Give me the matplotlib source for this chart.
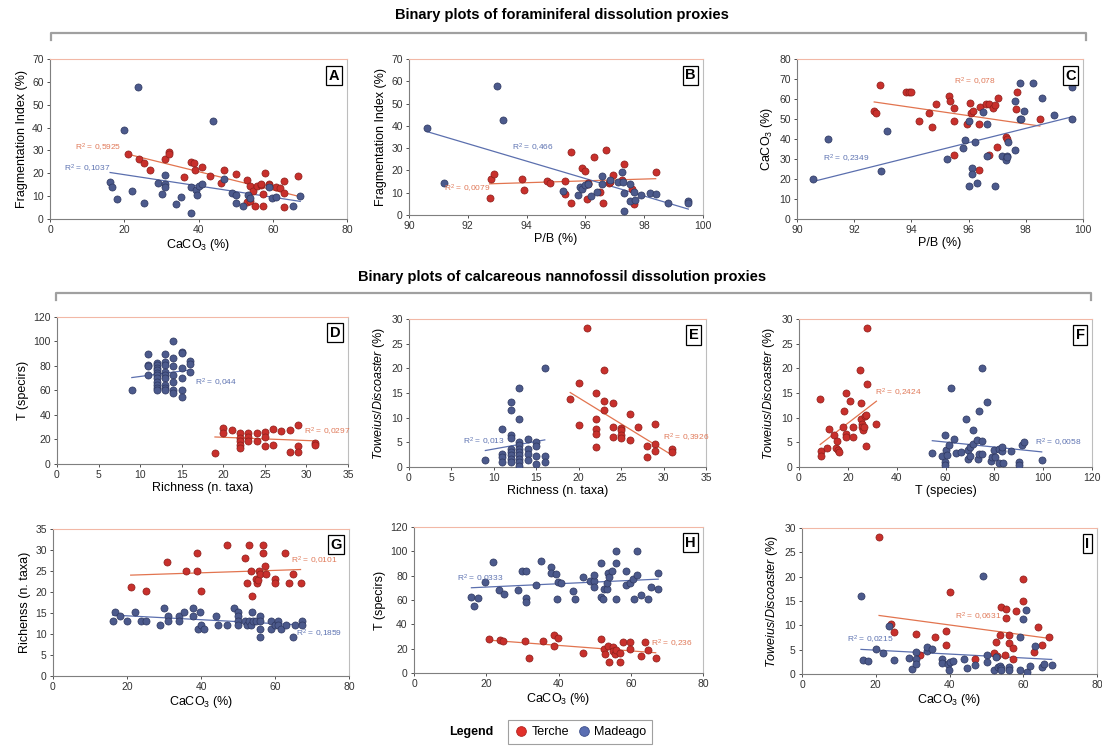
import numpy as np
import matplotlib as mpl
import matplotlib.pyplot as plt
from matplotlib.lines import Line2D

mpl.rcParams.update({
    "font.family": ["Liberation Sans", "DejaVu Sans"],
    "font.size": 8,
    "mathtext.fontset": "custom",
    "mathtext.rm": "Liberation Sans",
    "mathtext.it": "Liberation Sans:italic",
    "mathtext.bf": "Liberation Sans:bold",
    "xtick.labelsize": 7.5,
    "ytick.labelsize": 7.5,
    "xtick.color": "#333333",
    "ytick.color": "#333333",
})

# ---- data ----
# A: CaCO3 vs Fragmentation Index
A_T_X = [21.1, 24.1, 25.2, 27.0, 31.0, 32.1, 32.1, 36.0, 38.0, 38.9, 39.1, 41.0, 43.0, 46.0, 46.9, 50.0, 53.0, 53.1,
         53.9, 53.9, 54.8, 55.1, 55.7, 56.8, 57.3, 56.9, 57.3, 58.0, 59.0, 59.0, 60.8, 62.0, 62.9, 63.1, 63.1, 66.8]
A_T_Y = [28.5, 26.2, 24.6, 21.3, 26.2, 29.2, 28.4, 18.4, 25.0, 24.6, 21.6, 22.9, 18.9, 15.6, 21.3, 19.7, 17.0, 7.3,
         8.0, 14.3, 12.3, 5.7, 14.5, 14.8, 5.7, 15.5, 11.1, 20.0, 15.3, 14.8, 14.0, 13.7, 16.8, 5.4, 11.5, 18.6]
A_M_X = [16.2, 16.8, 18.1, 20.0, 22.0, 23.6, 25.2, 29.0, 30.1, 31.0, 31.0, 31.1, 33.9, 35.2, 38.0, 38.0, 39.4, 39.6,
         40.2, 40.9, 44.0, 46.9, 48.9, 50.0, 50.0, 52.0, 53.2, 53.8, 59.0, 59.8, 60.8, 65.4, 67.4]
A_M_Y = [16.2, 14.0, 8.6, 38.9, 12.3, 57.9, 7.0, 15.9, 10.8, 19.4, 15.5, 14.0, 6.6, 9.5, 14.2, 2.5, 12.9, 10.4,
         14.5, 15.2, 42.7, 17.4, 11.4, 10.5, 6.9, 5.8, 10.5, 9.2, 14.0, 9.4, 9.8, 5.7, 10.2]

# B: P/B vs Fragmentation Index
B_T_X = [92.74, 92.8, 92.9, 93.85, 93.9, 94.7, 94.8, 95.3, 95.3, 95.5, 95.5, 95.9, 96.0, 96.05, 96.1, 96.1, 96.3,
         96.5, 96.6, 96.7, 96.8, 96.85, 96.94, 97.24, 97.3, 97.58, 97.65, 98.39]
B_T_Y = [7.5, 16.3, 18.2, 16.3, 11.4, 15.4, 14.2, 9.4, 15.1, 5.2, 28.4, 21.1, 19.6, 7.3, 13.9, 14.5, 25.9,
         10.5, 5.4, 29.3, 14.2, 15.0, 18.1, 15.6, 22.9, 11.7, 4.9, 19.3]
B_M_X = [90.6, 91.2, 93.0, 93.2, 95.24, 95.75, 95.83, 95.9, 96.0, 96.1, 96.2, 96.4, 96.56, 96.56, 96.85, 97.1,
         97.24, 97.27, 97.3, 97.3, 97.52, 97.52, 97.66, 97.7, 97.9, 98.2, 98.4, 98.8, 99.5, 99.5]
B_M_Y = [38.9, 14.4, 58.0, 42.5, 10.8, 9.0, 12.7, 11.8, 13.3, 14.1, 8.4, 10.2, 17.5, 13.8, 15.7, 15.0,
         19.3, 15.0, 1.9, 10.0, 13.8, 6.3, 10.3, 6.7, 9.0, 10.0, 9.3, 5.4, 6.1, 5.2]

# C: P/B vs CaCO3
C_T_X = [92.7, 92.77, 92.9, 93.8, 93.9, 93.99, 94.27, 94.6, 94.73, 94.85, 95.33, 95.35, 95.5, 95.5, 95.5, 95.95,
         96.05, 96.1, 96.16, 96.36, 96.4, 96.36, 96.6, 96.7, 96.7, 96.86, 96.93, 97.03, 96.99, 97.3, 97.36, 97.65,
         97.7, 98.49]
C_T_Y = [54.2, 53.2, 67.1, 63.3, 63.3, 63.3, 49.2, 53.2, 46.0, 57.4, 61.3, 59.2, 55.6, 32.1, 49.2, 47.5,
         58.2, 53.2, 54.2, 47.4, 56.2, 24.4, 57.6, 57.6, 32.0, 55.4, 56.9, 60.3, 36.2, 41.2, 40.2, 55.1,
         63.3, 50.0]
C_M_X = [90.55, 91.1, 92.95, 93.15, 95.26, 95.8, 95.87, 96.02, 96.03, 96.13, 96.13, 96.22, 96.28, 96.5, 96.63,
         96.63, 96.92, 97.17, 97.3, 97.33, 97.35, 97.37, 97.63, 97.63, 97.8, 97.8, 97.84, 97.95, 98.26, 98.55,
         98.97, 99.6, 99.6]
C_M_Y = [20.1, 40.0, 23.9, 44.0, 30.1, 35.5, 39.7, 49.2, 16.6, 25.4, 22.3, 38.3, 18.2, 53.6, 47.4,
         31.3, 16.4, 31.3, 29.5, 31.3, 30.8, 38.5, 34.3, 59.1, 50.0, 68.0, 50.0, 54.1, 68.0, 60.3,
         52.2, 65.8, 50.0]

# D: Richness vs T
D_T_X = [19, 20, 20, 21, 22, 22, 22, 22, 22, 23, 23, 23, 24, 24, 25, 25, 25, 26, 26, 27, 28, 28, 29, 29, 29, 31, 31]
D_T_Y = [9.0, 29.3, 25.5, 28.0, 25.0, 20.9, 18.5, 15.7, 12.8, 25.0, 21.7, 19.0, 25.5, 18.7, 26.3, 22.3, 14.9,
         28.8, 15.7, 26.9, 27.7, 9.5, 32.0, 14.7, 9.5, 16.8, 15.7]
D_M_X = [9, 11, 11, 11, 11, 12, 12, 12, 12, 12, 12, 12, 12, 12, 12, 12, 13, 13, 13, 13, 13, 13, 13, 13, 13,
         14, 14, 14, 14, 14, 14, 14, 15, 15, 15, 15, 15, 15, 16, 16, 16]
D_M_Y = [60.3, 90.0, 81.0, 80.0, 73.0, 82.5, 80.7, 78.5, 76.6, 74.4, 72.5, 69.8, 67.1, 64.4, 62.2, 60.3,
         90.0, 83.4, 81.0, 75.0, 72.5, 69.8, 64.4, 62.4, 60.3, 100.2, 86.9, 80.0, 72.5, 67.1, 60.3, 58.1,
         91.5, 90.7, 78.0, 69.8, 60.3, 54.8, 83.9, 82.0, 75.2]

# E: Richness vs Toweius/Discoaster
E_T_X = [19, 20, 20, 21, 22, 22, 22, 22, 22, 23, 23, 23, 24, 24, 24, 25, 25, 25, 25, 26, 26, 27, 28, 28, 29, 29,
         29, 31, 31]
E_T_Y = [13.8, 17.0, 8.6, 28.2, 15.1, 9.7, 7.7, 6.6, 4.1, 19.7, 13.4, 11.5, 13.0, 8.1, 6.0, 8.0, 7.5, 6.4, 5.9,
         10.7, 5.4, 8.1, 4.3, 2.1, 8.8, 4.7, 3.2, 3.6, 3.1]
E_M_X = [9, 11, 11, 11, 11, 12, 12, 12, 12, 12, 12, 12, 12, 12, 13, 13, 13, 13, 13, 13, 13, 13, 13, 13,
         14, 14, 14, 14, 15, 15, 15, 15, 16, 16, 16]
E_M_Y = [1.4, 7.7, 2.7, 2.0, 1.0, 13.1, 11.5, 6.4, 5.8, 3.7, 3.1, 2.4, 1.7, 1.0, 16.1, 9.7, 5.1, 4.4, 3.7, 3.1,
         2.4, 1.7, 1.0, 0.3, 5.6, 3.7, 2.7, 1.4, 5.1, 4.3, 2.2, 0.7, 20.1, 2.3, 1.0]

# F: T vs Toweius/Discoaster
F_T_X = [8.7, 8.9, 8.9, 11.5, 12.3, 14.5, 15.2, 15.6, 15.9, 16.3, 18.2, 18.5, 19.2, 19.2, 19.3, 20.8, 22.0, 22.0,
         24.9, 25.2, 25.2, 25.6, 26.0, 26.3, 26.7, 27.0, 27.6, 27.4, 27.8, 27.8, 31.7]
F_T_Y = [13.7, 3.2, 2.2, 3.9, 7.7, 6.4, 3.9, 5.3, 3.5, 3.0, 8.1, 11.4, 6.7, 6.0, 15.1, 13.3, 6.0, 8.1,
         19.6, 12.9, 9.7, 8.7, 8.1, 7.6, 8.2, 10.3, 10.6, 4.3, 16.9, 28.2, 8.8]
F_M_X = [54.6, 58.4, 59.7, 59.8, 59.8, 60.2, 60.8, 61.3, 62.4, 63.5, 64.5, 66.5, 68.6, 69.1, 69.4, 70.1, 70.1,
         71.4, 71.4, 72.8, 73.5, 73.6, 73.8, 75.1, 75.1, 75.1, 77.0, 78.7, 79.2, 79.9, 80.3, 81.8, 82.1, 83.2,
         83.2, 83.7, 86.9, 90.3, 90.3, 91.3, 92.2, 99.4]
F_M_Y = [2.8, 2.2, 6.4, 1.1, 0.4, 3.4, 2.4, 4.5, 16.1, 5.6, 2.8, 3.1, 9.7, 3.4, 1.6, 2.2, 4.1,
         7.6, 4.6, 5.4, 1.6, 11.4, 2.6, 2.6, 5.2, 20.0, 13.1, 1.2, 2.0, 3.5, 2.1, 3.6, 0.9, 3.2,
         4.0, 0.9, 3.2, 1.0, 0.5, 4.5, 5.1, 1.4]

# G: CaCO3 vs Richness
G_T_X = [21.0, 25.1, 30.9, 36.0, 38.8, 38.8, 39.9, 46.9, 52.0, 52.3, 52.9, 53.6, 53.8, 54.8, 55.0, 55.5, 55.8,
         55.9, 56.8, 56.8, 57.3, 57.7, 59.9, 59.9, 62.8, 63.8, 64.9, 66.9]
G_T_Y = [21.1, 20.3, 27.2, 25.1, 29.2, 25.1, 20.3, 31.2, 28.1, 22.2, 31.2, 25.1, 19.1, 23.2, 22.2, 22.8, 25.1,
         24.3, 31.2, 29.2, 26.2, 24.2, 23.2, 22.2, 29.2, 22.2, 24.2, 22.2]
G_M_X = [16.1, 16.8, 18.2, 20.1, 22.1, 23.7, 25.1, 29.0, 29.9, 31.0, 31.0, 34.0, 34.0, 35.3, 37.9, 37.9, 39.2,
         39.6, 40.0, 40.9, 44.0, 44.7, 46.9, 49.0, 50.0, 50.0, 50.0, 50.0, 52.0, 52.3, 53.0, 53.4, 53.8, 54.1,
         54.8, 55.9, 55.9, 55.9, 55.9, 59.0, 59.0, 59.9, 60.9, 60.9, 61.6, 62.9, 64.9, 65.5, 67.4, 67.4]
G_M_Y = [13.2, 15.2, 14.2, 13.2, 15.2, 13.2, 13.2, 12.2, 16.1, 14.2, 13.2, 14.2, 13.2, 15.2, 14.2, 16.1, 11.2,
         15.2, 12.2, 11.2, 14.2, 12.2, 12.2, 16.1, 15.2, 14.2, 13.2, 12.2, 13.2, 12.2, 13.2, 12.2, 15.2, 13.2,
         13.2, 14.2, 11.2, 9.2, 13.2, 11.2, 13.2, 12.2, 13.2, 12.2, 11.2, 12.2, 9.2, 12.2, 13.2, 12.2]

# H: CaCO3 vs T
H_T_X = [20.7, 23.8, 24.7, 30.8, 31.9, 35.8, 38.7, 38.8, 39.9, 46.9, 51.8, 52.5, 52.9, 53.6, 53.9, 55.0, 55.2,
         55.6, 56.0, 56.9, 56.9, 57.9, 59.8, 59.8, 62.9, 63.9, 64.9, 66.9]
H_T_Y = [27.8, 27.3, 25.9, 26.5, 12.0, 26.5, 31.6, 22.6, 28.4, 16.4, 27.8, 19.6, 15.5, 21.8, 9.0, 21.0, 17.7,
         15.8, 19.1, 16.4, 9.0, 25.4, 25.4, 19.9, 14.2, 25.4, 18.8, 12.5]
H_M_X = [15.9, 16.6, 17.8, 19.6, 21.8, 23.6, 24.9, 28.8, 29.8, 30.9, 30.9, 30.9, 33.7, 35.1, 37.9, 37.9, 39.2,
         39.6, 39.9, 40.8, 43.9, 44.5, 46.9, 48.8, 49.9, 49.9, 49.9, 51.8, 51.8, 52.4, 52.5, 53.5, 53.5, 53.7,
         54.0, 54.9, 55.9, 55.9, 55.9, 58.8, 58.8, 59.7, 60.6, 60.9, 61.6, 61.8, 62.9, 64.9, 65.5, 67.6, 67.6]
H_M_Y = [62.7, 54.8, 61.9, 75.0, 91.1, 68.5, 64.6, 68.5, 83.5, 83.5, 61.4, 58.6, 72.3, 92.2, 87.0, 82.1, 81.3,
         60.5, 74.7, 73.6, 67.1, 60.5, 78.8, 75.3, 75.3, 80.2, 70.4, 90.3, 62.2, 61.1, 69.3, 69.3, 73.6, 82.1,
         78.5, 83.7, 100.0, 90.3, 60.5, 83.7, 72.0, 73.6, 77.5, 60.5, 80.7, 100.0, 64.1, 60.5, 70.4, 82.1, 69.3]

# I: CaCO3 vs Toweius/Discoaster
I_T_X = [20.9, 24.0, 24.9, 31.0, 32.0, 36.0, 39.1, 39.1, 40.0, 47.0, 52.1, 52.5, 53.0, 53.7, 54.1, 55.1, 55.2,
         55.3, 56.0, 56.0, 57.1, 57.2, 58.0, 60.0, 60.0, 62.9, 64.0, 65.0, 67.0]
I_T_Y = [28.1, 10.2, 8.7, 8.2, 4.0, 7.6, 8.9, 5.9, 16.9, 3.0, 4.3, 6.5, 3.7, 8.1, 13.7, 3.9, 11.5,
         13.3, 6.3, 8.1, 3.1, 5.3, 13.0, 19.6, 15.1, 4.6, 9.7, 5.9, 7.7]
I_M_X = [16.0, 16.6, 18.0, 20.0, 21.9, 23.6, 24.9, 28.9, 29.9, 31.0, 31.0, 31.0, 34.0, 34.0, 35.3, 38.0, 38.0,
         39.6, 39.8, 40.1, 41.0, 43.9, 44.8, 47.0, 49.0, 50.1, 50.1, 52.1, 52.5, 53.1, 53.6, 54.1, 54.1, 56.1,
         56.1, 59.0, 59.0, 60.0, 60.8, 61.0, 61.7, 63.1, 65.1, 65.7, 67.7]
I_M_Y = [16.1, 2.9, 2.7, 5.1, 4.4, 9.8, 2.9, 3.3, 1.0, 4.6, 3.1, 2.0, 4.8, 5.6, 5.1, 3.0, 2.2,
         2.1, 0.8, 2.4, 2.7, 3.1, 1.3, 1.9, 20.1, 4.0, 2.5, 0.8, 3.5, 1.4, 1.7, 1.3, 0.9, 1.4,
         0.9, 0.9, 7.7, 11.4, 13.1, 0.4, 1.7, 5.7, 1.4, 2.0, 1.8]

R2_LABELS = {
    "A": ("R$^2$ = 0,5925", "R$^2$ = 0,1037"),
    "B": ("R$^2$ = 0,0079", "R$^2$ = 0,466"),
    "C": ("R$^2$ = 0,078", "R$^2$ = 0,2349"),
    "D": ("R$^2$ = 0,0297", "R$^2$ = 0,044"),
    "E": ("R$^2$ = 0,3926", "R$^2$ = 0,013"),
    "F": ("R$^2$ = 0,2424", "R$^2$ = 0,0058"),
    "G": ("R$^2$ = 0,0101", "R$^2$ = 0,1859"),
    "H": ("R$^2$ = 0,236", "R$^2$ = 0,0333"),
    "I": ("R$^2$ = 0,0631", "R$^2$ = 0,0215"),
}

RED = "#c8302c"
RED_EDGE = "#8c1f1b"
BLUE = "#4c5a8c"
BLUE_EDGE = "#2e3860"
RED_LINE = "#e2744f"
BLUE_LINE = "#5b6fae"
RED_TXT = "#e07a5a"
BLUE_TXT = "#5f74b2"

W, H = 1102, 747
CACO3 = "CaCO$_3$ (%)"
TD = "$\\it{Toweius/Discoaster}$ (%)"


def add_ax(fig, l, t, r, b):
    return fig.add_axes([l / W, 1 - b / H, (r - l) / W, (b - t) / H])


def trend(ax, x, y, color):
    x = np.asarray(x, float)
    y = np.asarray(y, float)
    k, c = np.polyfit(x, y, 1)
    xs = np.array([x.min(), x.max()])
    ax.plot(xs, k * xs + c, color=color, lw=0.9, zorder=3)


def panel(fig, box, letter, tx, ty, mx, my, xlim, xstep, ylim, ystep, xlabel, ylabel, rpos):
    ax = add_ax(fig, *box)
    ax.scatter(tx, ty, s=26, color=RED, edgecolor=RED_EDGE, linewidth=0.5, zorder=4)
    ax.scatter(mx, my, s=26, color=BLUE, edgecolor=BLUE_EDGE, linewidth=0.5, zorder=4)
    trend(ax, tx, ty, RED_LINE)
    trend(ax, mx, my, BLUE_LINE)
    ax.set_xlim(*xlim)
    ax.set_ylim(*ylim)
    ax.set_xticks(np.arange(xlim[0], xlim[1] + 0.01, xstep))
    ax.set_yticks(np.arange(ylim[0], ylim[1] + 0.01, ystep))
    ax.set_xlabel(xlabel, fontsize=9, labelpad=1)
    ax.set_ylabel(ylabel, fontsize=9, labelpad=3)
    ax.tick_params(direction="out", length=2.5, width=0.6, pad=2)
    ax.spines["left"].set_color("#7f7f7f")
    ax.spines["bottom"].set_color("#7f7f7f")
    ax.spines["top"].set_color("#f2b8a6")
    ax.spines["right"].set_color("#bdbdbd")
    for s in ax.spines.values():
        s.set_linewidth(0.8)
    rt, rm = R2_LABELS[letter]
    ax.text(rpos[0][0], rpos[0][1], rt, color=RED_TXT, fontsize=6, va="center", ha="left", zorder=5)
    ax.text(rpos[1][0], rpos[1][1], rm, color=BLUE_TXT, fontsize=6, va="center", ha="left", zorder=5)
    ax.text(0.975, 0.94, letter, transform=ax.transAxes, ha="right", va="top", fontsize=10.5,
            fontweight="bold", zorder=6,
            bbox=dict(boxstyle="square,pad=0.18", facecolor="white", edgecolor="black", linewidth=0.9))
    return ax


def header(fig, text, ytext, yline, x0, x1):
    fig.text(0.51, 1 - ytext / H, text, ha="center", va="center", fontsize=10.5, fontweight="bold",
             family=["Liberation Sans Narrow", "Liberation Sans", "DejaVu Sans"])
    fig.add_artist(Line2D([x0 / W, x0 / W, x1 / W, x1 / W],
                          [1 - (yline + 7) / H, 1 - yline / H, 1 - yline / H, 1 - (yline + 7) / H],
                          color="#a0a0a0", lw=1.6, transform=fig.transFigure))


def main():
    fig = plt.figure(figsize=(W / 100, H / 100), dpi=100)
    fig.patch.set_facecolor("white")

    header(fig, "Binary plots of foraminiferal dissolution proxies", 15, 33, 51, 1086)
    header(fig, "Binary plots of calcareous nannofossil dissolution proxies", 277, 293, 56, 1091)

    panel(fig, (50, 59, 347, 219), "A", A_T_X, A_T_Y, A_M_X, A_M_Y, (0, 80), 20, (0, 70), 10,
          CACO3, "Fragmentation Index (%)", ((6.7, 31), (3.8, 22)))
    panel(fig, (409, 59, 703, 215), "B", B_T_X, B_T_Y, B_M_X, B_M_Y, (90, 100), 2, (0, 70), 10,
          "P/B (%)", "Fragmentation Index (%)", ((91.2, 11.7), (93.5, 30)))
    panel(fig, (797, 59, 1083, 219), "C", C_T_X, C_T_Y, C_M_X, C_M_Y, (90, 100), 2, (0, 80), 10,
          "P/B (%)", CACO3, ((95.5, 68.4), (90.9, 30)))
    panel(fig, (57, 317, 348, 464), "D", D_T_X, D_T_Y, D_M_X, D_M_Y, (0, 35), 5, (0, 120), 20,
          "Richness (n. taxa)", "T (specirs)", ((29.7, 26.3), (16.6, 66.5)))
    panel(fig, (409, 319, 706, 467), "E", E_T_X, E_T_Y, E_M_X, E_M_Y, (0, 35), 5, (0, 30), 5,
          "Richness (n. taxa)", TD, ((29.9, 5.9), (6.4, 5.0)))
    panel(fig, (799, 319, 1092, 467), "F", F_T_X, F_T_Y, F_M_X, F_M_Y, (0, 120), 20, (0, 30), 5,
          "T (species)", TD, ((31, 15.1), (96.7, 4.9)))
    panel(fig, (53, 529, 349, 676), "G", G_T_X, G_T_Y, G_M_X, G_M_Y, (0, 80), 20, (0, 35), 5,
          CACO3, "Richenss (n. taxa)", ((64.3, 27.5), (65.6, 10.0)))
    panel(fig, (414, 527, 703, 673), "H", H_T_X, H_T_Y, H_M_X, H_M_Y, (0, 80), 20, (0, 120), 20,
          CACO3, "T (specirs)", ((65.7, 24), (11.8, 77)))
    panel(fig, (802, 528, 1097, 674), "I", I_T_X, I_T_Y, I_M_X, I_M_Y, (0, 80), 20, (0, 30), 5,
          CACO3, TD, ((41.4, 11.7), (12.2, 7.0)))

    handles = [
        Line2D([], [], ls="none", marker="o", ms=7, mfc="#e2302a", mec="#b02420", mew=0.6, label="Terche"),
        Line2D([], [], ls="none", marker="o", ms=7, mfc="#5a6eb2", mec="#3d4f8a", mew=0.6, label="Madeago"),
    ]
    leg = fig.legend(handles=handles, loc="center", bbox_to_anchor=(580 / W, 1 - 732 / H), ncol=2,
                     frameon=True, fancybox=False, fontsize=9, handletextpad=0.2, columnspacing=0.6,
                     handlelength=1.2, borderpad=0.45, borderaxespad=0)
    leg.get_frame().set_edgecolor("#888888")
    leg.get_frame().set_linewidth(0.8)
    fig.text(493 / W, 1 - 732 / H, "Legend", ha="right", va="center", fontsize=9, fontweight="bold")

    fig.savefig("out.png", dpi=100, facecolor="white")


if __name__ == "__main__":
    main()
